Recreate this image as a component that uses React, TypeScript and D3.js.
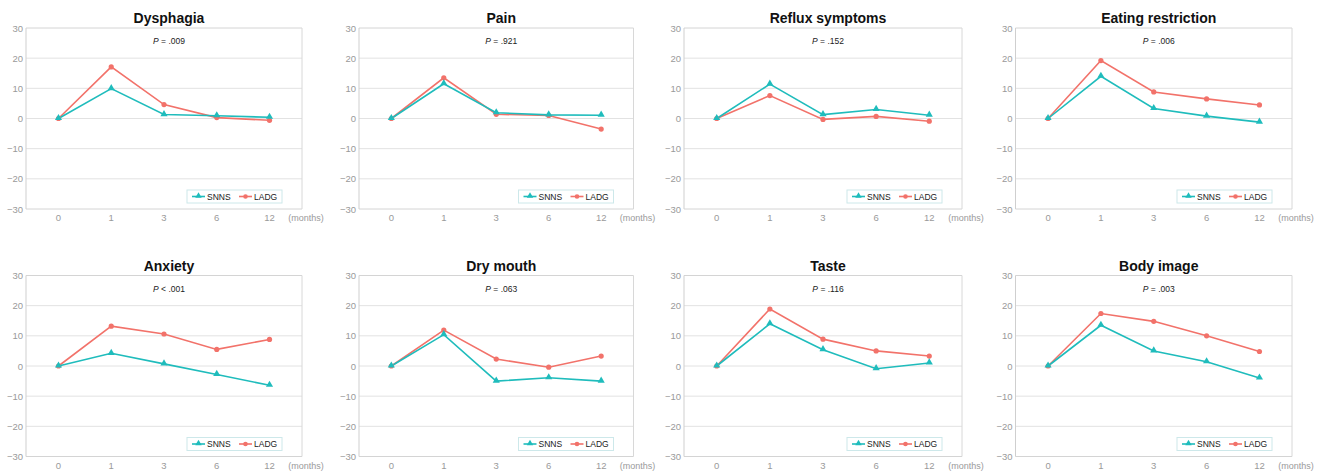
import React from "react";
import * as d3 from "d3";

const months = ["0", "1", "3", "6", "12"];
const titles = [
  "Dysphagia",
  "Pain",
  "Reflux symptoms",
  "Eating restriction",
  "Anxiety",
  "Dry mouth",
  "Taste",
  "Body image",
];
const pValues = [
  { op: "=", v: ".009" },
  { op: "=", v: ".921" },
  { op: "=", v: ".152" },
  { op: "=", v: ".006" },
  { op: "<", v: ".001" },
  { op: "=", v: ".063" },
  { op: "=", v: ".116" },
  { op: "=", v: ".003" },
];
const snns = [
  [0, 9.9, 1.3, 0.9, 0.4],
  [0, 11.5, 1.9, 1.2, 1.1],
  [0, 11.4, 1.3, 3.0, 1.1],
  [0, 14.0, 3.3, 0.8, -1.2],
  [0, 4.2, 0.7, -2.8, -6.4],
  [0, 10.4, -5.0, -3.9, -5.0],
  [0, 14.0, 5.4, -0.9, 1.0],
  [0, 13.5, 5.0, 1.4, -4.0],
];
const ladg = [
  [0, 17.1, 4.6, 0.3, -0.6],
  [0, 13.5, 1.4, 1.0, -3.5],
  [0, 7.6, -0.3, 0.7, -0.9],
  [0, 19.2, 8.8, 6.5, 4.5],
  [0, 13.2, 10.6, 5.5, 8.8],
  [0, 11.9, 2.3, -0.4, 3.3],
  [0, 18.9, 8.9, 5.0, 3.3],
  [0, 17.4, 14.8, 10.0, 4.8],
];
const yTicks = [-30, -20, -10, 0, 10, 20, 30];
const seriesNames = ["SNNS", "LADG"];

const TEAL = "#1fbcbc";
const CORAL = "#f2726a";
const FONT = "'Liberation Sans', Arial, Helvetica, sans-serif";

// panel frames: left/right of plot area per column, top per row
const colLeft = [26, 359, 684, 1015.5];
const colRight = [302, 633.5, 962, 1292];
const rowTop = [28, 275.5];
const plotH = 181;

const fmtTick = (v: number) => (v < 0 ? "\u2212" + Math.abs(v) : String(v));

function Panel({ idx }: { idx: number }) {
  const col = idx % 4;
  const row = Math.floor(idx / 4);
  const left = colLeft[col];
  const right = colRight[col];
  const top = rowTop[row];
  const bottom = top + plotH;
  const x = d3.scalePoint<string>().domain(months).range([left, right]).padding(0.616);
  const y = d3.scaleLinear().domain([-30, 30]).range([bottom, top]);
  const line = d3
    .line<number>()
    .x((_, i) => x(months[i]) as number)
    .y((d) => y(d));
  const cx = (left + right) / 2 + 5;
  const tri = d3.symbol().type(d3.symbolTriangle).size(22)();
  const triSmall = d3.symbol().type(d3.symbolTriangle).size(18)();

  const legW = 95;
  const legH = 13;
  const legX = right - 20 - legW;
  const legY = bottom - 6 - legH;
  const legMid = legY + legH / 2;

  return (
    <g>
      {/* gridlines */}
      {yTicks.map((t) => (
        <line
          key={"g" + t}
          x1={left}
          x2={right}
          y1={y(t)}
          y2={y(t)}
          stroke={t === 30 || t === -30 ? "#d4d4d4" : "#e2e2e2"}
          strokeWidth={1}
        />
      ))}
      <line x1={left} x2={left} y1={top} y2={bottom} stroke="#cfcfcf" strokeWidth={1} />
      <line x1={right} x2={right} y1={top} y2={bottom} stroke="#d8d8d8" strokeWidth={1} />
      {yTicks.map((t) => (
        <text
          key={"t" + t}
          x={left - 3}
          y={y(t) + 3.5}
          textAnchor="end"
          fontSize={9.5}
          fill="#9a9a9a"
          fontFamily={FONT}
        >
          {fmtTick(t)}
        </text>
      ))}
      {months.map((m) => (
        <text
          key={"m" + m}
          x={x(m)}
          y={bottom + 12}
          textAnchor="middle"
          fontSize={9.5}
          fill="#9a9a9a"
          fontFamily={FONT}
        >
          {m}
        </text>
      ))}
      <text
        x={right + 4}
        y={bottom + 12}
        textAnchor="middle"
        fontSize={9}
        fill="#9a9a9a"
        fontFamily={FONT}
      >
        (months)
      </text>
      <text
        x={cx}
        y={top - 5}
        textAnchor="middle"
        fontSize={14}
        fontWeight="bold"
        fill="#111"
        fontFamily={FONT}
      >
        {titles[idx]}
      </text>
      <text x={cx} y={top + 16} textAnchor="middle" fontSize={8.5} fill="#222" fontFamily={FONT}>
        <tspan fontStyle="italic">P</tspan>
        <tspan>{" " + pValues[idx].op + " " + pValues[idx].v}</tspan>
      </text>

      {/* series */}
      <path d={line(ladg[idx]) || ""} fill="none" stroke={CORAL} strokeWidth={1.6} />
      <path d={line(snns[idx]) || ""} fill="none" stroke={TEAL} strokeWidth={1.6} />
      {ladg[idx].map((v, i) => (
        <circle key={"l" + i} cx={x(months[i])} cy={y(v)} r={2.6} fill={CORAL} />
      ))}
      {snns[idx].map((v, i) => (
        <path
          key={"s" + i}
          d={tri || ""}
          transform={`translate(${x(months[i])},${y(v) - 0.5})`}
          fill={TEAL}
        />
      ))}

      {/* legend */}
      <rect x={legX} y={legY} width={legW} height={legH} fill="#fff" stroke="#cde8ea" strokeWidth={1} />
      <line x1={legX + 5} x2={legX + 18} y1={legMid} y2={legMid} stroke={TEAL} strokeWidth={1.6} />
      <path d={triSmall || ""} transform={`translate(${legX + 11.5},${legMid - 0.5})`} fill={TEAL} />
      <text x={legX + 20} y={legMid + 3} fontSize={8.5} fill="#222" fontFamily={FONT}>
        {seriesNames[0]}
      </text>
      <line x1={legX + 52} x2={legX + 65} y1={legMid} y2={legMid} stroke={CORAL} strokeWidth={1.6} />
      <circle cx={legX + 58.5} cy={legMid} r={2.3} fill={CORAL} />
      <text x={legX + 67} y={legMid + 3} fontSize={8.5} fill="#222" fontFamily={FONT}>
        {seriesNames[1]}
      </text>
    </g>
  );
}

export default function App() {
  return (
    <svg
      width={1320}
      height={472}
      style={{ position: "absolute", left: 0, top: 0, background: "#fff" }}
    >
      <rect width={1320} height={472} fill="#fff" />
      {titles.map((_, i) => (
        <Panel key={i} idx={i} />
      ))}
    </svg>
  );
}
